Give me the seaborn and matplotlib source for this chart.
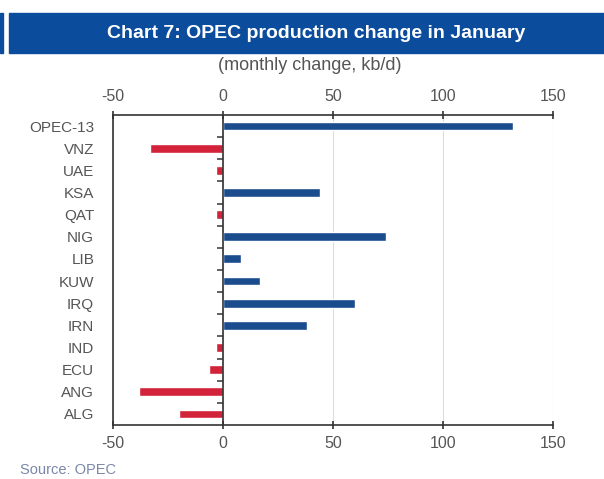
import matplotlib
matplotlib.use("Agg")
import matplotlib.pyplot as plt
from matplotlib.patches import Rectangle
import seaborn as sns
import pandas as pd

# Data (kb/d, monthly change)
countries = ["OPEC-13", "VNZ", "UAE", "KSA", "QAT", "NIG", "LIB",
             "KUW", "IRQ", "IRN", "IND", "ECU", "ANG", "ALG"]
changes = [132, -33, -3, 44, -3, 74, 8, 17, 60, 38, -3, -6.5, -38, -20]
x_ticks = [-50, 0, 50, 100, 150]

BLUE = "#1b4c8e"
RED = "#d3233a"
BANNER = "#0b4c9c"
GREY = "#555555"

df = pd.DataFrame({"country": countries, "change": changes})
df["sign"] = ["up" if v >= 0 else "down" for v in df["change"]]

sns.set_style("white")
plt.rcParams["font.family"] = ["Liberation Sans", "DejaVu Sans"]
plt.rcParams["axes.unicode_minus"] = False

fig = plt.figure(figsize=(6.04, 4.79), dpi=100)
ax = fig.add_axes([0.187, 0.1127, 0.7286, 0.6473])

sns.barplot(data=df, y="country", x="change", hue="sign", order=countries,
            palette={"up": BLUE, "down": RED}, orient="h", width=0.4,
            dodge=False, legend=False, saturation=1, ax=ax)

ax.set_xlim(-50, 150)
ax.set_xticks(x_ticks)
ax.set_xlabel("")
ax.set_ylabel("")
ax.grid(axis="x", color="#dcdcdc", linewidth=0.8)
ax.set_axisbelow(True)
ax.axvline(0, color="#333333", linewidth=1.2, zorder=3)

for side in ["top", "bottom", "left"]:
    ax.spines[side].set_color("#333333")
    ax.spines[side].set_linewidth(1.2)
ax.spines["right"].set_visible(False)

ax.tick_params(axis="x", top=True, labeltop=True, bottom=True, labelbottom=True,
               direction="inout", length=6, width=1.2, color="#333333",
               labelsize=11.5, labelcolor=GREY, pad=5)
ax.tick_params(axis="y", left=False, labelsize=11, labelcolor=GREY, pad=10)

# small category-boundary ticks on the zero line
zero_frac = (0 - x_ticks[0]) / (x_ticks[-1] - x_ticks[0])
sec = ax.secondary_yaxis(zero_frac)
sec.set_yticks([i + 0.5 for i in range(len(countries) - 1)])
sec.set_yticklabels([])
sec.spines["left"].set_visible(False)
sec.tick_params(axis="y", direction="out", length=4, width=1.2, color="#444444")

# Banner title
fig.patches.append(Rectangle((9 / 604, 1 - 53 / 479), 1 - 9 / 604, 40 / 479,
                             transform=fig.transFigure, color=BANNER, zorder=0))
fig.patches.append(Rectangle((0.0, 1 - 53 / 479), 3 / 604, 40 / 479,
                             transform=fig.transFigure, color=BANNER, zorder=0))
fig.text(316 / 604, 1 - 34 / 479, "Chart 7: OPEC production change in January",
         ha="center", va="center", color="white", fontsize=14, fontweight="bold")
fig.text(310 / 604, 1 - 66 / 479, "(monthly change, kb/d)", ha="center", va="center",
         color=GREY, fontsize=13)
fig.text(20 / 604, 1 - 470 / 479, "Source: OPEC", ha="left", va="center",
         color="#7a87a8", fontsize=10.5)

fig.savefig("out.png", dpi=100)
